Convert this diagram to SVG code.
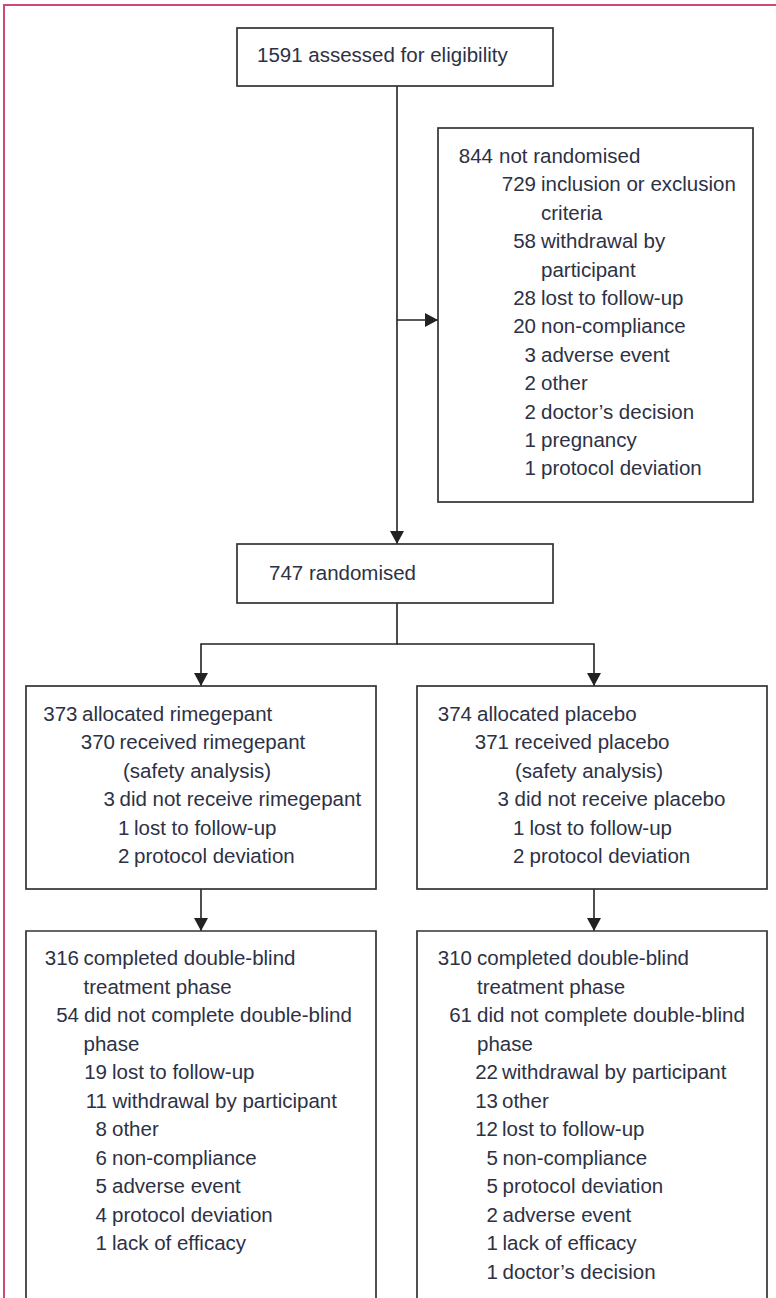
<svg xmlns="http://www.w3.org/2000/svg" width="776" height="1298" viewBox="0 0 776 1298">
<style>
.frame{fill:none;stroke:#cf4a73;stroke-width:2}
.box{fill:#fff;stroke:#333;stroke-width:1.7}
.conn{fill:none;stroke:#222;stroke-width:1.6}
text{font-family:"Liberation Sans",Arial,sans-serif;font-size:20.5px;fill:#2d3145}
.n{text-anchor:end}
</style>
<defs>
<marker id="ah" markerUnits="userSpaceOnUse" markerWidth="14" markerHeight="14" refX="13" refY="7" orient="auto">
<path d="M0,0 L13,7 L0,14 Z" fill="#222"/>
</marker>
</defs>
<rect width="776" height="1298" fill="#fff"/>
<path class="frame" d="M4,1298 V5 H776"/>

<g id="connectors">
<path class="conn" d="M397,86 V544" marker-end="url(#ah)"/>
<path class="conn" d="M397,320 H438" marker-end="url(#ah)"/>
<path class="conn" d="M397,603 V644 H201 V686" marker-end="url(#ah)"/>
<path class="conn" d="M397,644 H594 V686" marker-end="url(#ah)"/>
<path class="conn" d="M201,889 V931" marker-end="url(#ah)"/>
<path class="conn" d="M594,889 V931" marker-end="url(#ah)"/>
</g>

<g id="assessed">
<rect class="box" x="237" y="28" width="316" height="58"/>
<text x="257" y="62">1591 assessed for eligibility</text>
</g>

<g id="not-randomised">
<rect class="box" x="438" y="128" width="315" height="374"/>
<text class="n" x="493" y="163">844</text><text x="499" y="163">not randomised</text>
<text class="n" x="536" y="191.4">729</text><text x="541" y="191.4">inclusion or exclusion</text>
<text x="541" y="219.8">criteria</text>
<text class="n" x="536" y="248.2">58</text><text x="541" y="248.2">withdrawal by</text>
<text x="541" y="276.6">participant</text>
<text class="n" x="536" y="305">28</text><text x="541" y="305">lost to follow-up</text>
<text class="n" x="536" y="333.4">20</text><text x="541" y="333.4">non-compliance</text>
<text class="n" x="536" y="361.8">3</text><text x="541" y="361.8">adverse event</text>
<text class="n" x="536" y="390.2">2</text><text x="541" y="390.2">other</text>
<text class="n" x="536" y="418.6">2</text><text x="541" y="418.6">doctor’s decision</text>
<text class="n" x="536" y="447">1</text><text x="541" y="447">pregnancy</text>
<text class="n" x="536" y="475.4">1</text><text x="541" y="475.4">protocol deviation</text>
</g>

<g id="randomised">
<rect class="box" x="237" y="544" width="316" height="59"/>
<text x="269" y="580">747 randomised</text>
</g>

<g id="allocated-rimegepant">
<rect class="box" x="26" y="686" width="350" height="203"/>
<text class="n" x="77.5" y="721">373</text><text x="82" y="721">allocated rimegepant</text>
<text class="n" x="115" y="749.4">370</text><text x="119.5" y="749.4">received rimegepant</text>
<text x="123" y="777.8">(safety analysis)</text>
<text class="n" x="115" y="806.2">3</text><text x="119.5" y="806.2">did not receive rimegepant</text>
<text class="n" x="129.5" y="834.6">1</text><text x="134" y="834.6">lost to follow-up</text>
<text class="n" x="129.5" y="863">2</text><text x="134" y="863">protocol deviation</text>
</g>

<g id="allocated-placebo">
<rect class="box" x="417" y="686" width="350" height="203"/>
<text class="n" x="472" y="721">374</text><text x="477" y="721">allocated placebo</text>
<text class="n" x="509" y="749.4">371</text><text x="514.5" y="749.4">received placebo</text>
<text x="515" y="777.8">(safety analysis)</text>
<text class="n" x="509" y="806.2">3</text><text x="514.5" y="806.2">did not receive placebo</text>
<text class="n" x="524.5" y="834.6">1</text><text x="529.5" y="834.6">lost to follow-up</text>
<text class="n" x="524.5" y="863">2</text><text x="529.5" y="863">protocol deviation</text>
</g>

<g id="completed-rimegepant">
<path class="box" d="M26,1302 V931 H376 V1302"/>
<text class="n" x="79" y="965">316</text><text x="83.5" y="965">completed double-blind</text>
<text x="83.5" y="993.5">treatment phase</text>
<text class="n" x="79" y="1022">54</text><text x="84" y="1022">did not complete double-blind</text>
<text x="83.5" y="1050.5">phase</text>
<text class="n" x="107" y="1079">19</text><text x="112" y="1079">lost to follow-up</text>
<text class="n" x="107" y="1107.5">11</text><text x="112.5" y="1107.5">withdrawal by participant</text>
<text class="n" x="107" y="1136">8</text><text x="112" y="1136">other</text>
<text class="n" x="107" y="1164.5">6</text><text x="112" y="1164.5">non-compliance</text>
<text class="n" x="107" y="1193">5</text><text x="112" y="1193">adverse event</text>
<text class="n" x="107" y="1221.5">4</text><text x="112" y="1221.5">protocol deviation</text>
<text class="n" x="107" y="1250">1</text><text x="112" y="1250">lack of efficacy</text>
</g>

<g id="completed-placebo">
<path class="box" d="M417,1302 V931 H767 V1302"/>
<text class="n" x="472" y="965">310</text><text x="477" y="965">completed double-blind</text>
<text x="477" y="993.5">treatment phase</text>
<text class="n" x="472" y="1022">61</text><text x="477" y="1022">did not complete double-blind</text>
<text x="477" y="1050.5">phase</text>
<text class="n" x="498" y="1079">22</text><text x="502" y="1079">withdrawal by participant</text>
<text class="n" x="498" y="1107.5">13</text><text x="502" y="1107.5">other</text>
<text class="n" x="498" y="1136">12</text><text x="502" y="1136">lost to follow-up</text>
<text class="n" x="498" y="1164.5">5</text><text x="502.5" y="1164.5">non-compliance</text>
<text class="n" x="498" y="1193">5</text><text x="502.5" y="1193">protocol deviation</text>
<text class="n" x="498" y="1221.5">2</text><text x="502.5" y="1221.5">adverse event</text>
<text class="n" x="498" y="1250">1</text><text x="502.5" y="1250">lack of efficacy</text>
<text class="n" x="498" y="1278.5">1</text><text x="502.5" y="1278.5">doctor’s decision</text>
</g>
</svg>
